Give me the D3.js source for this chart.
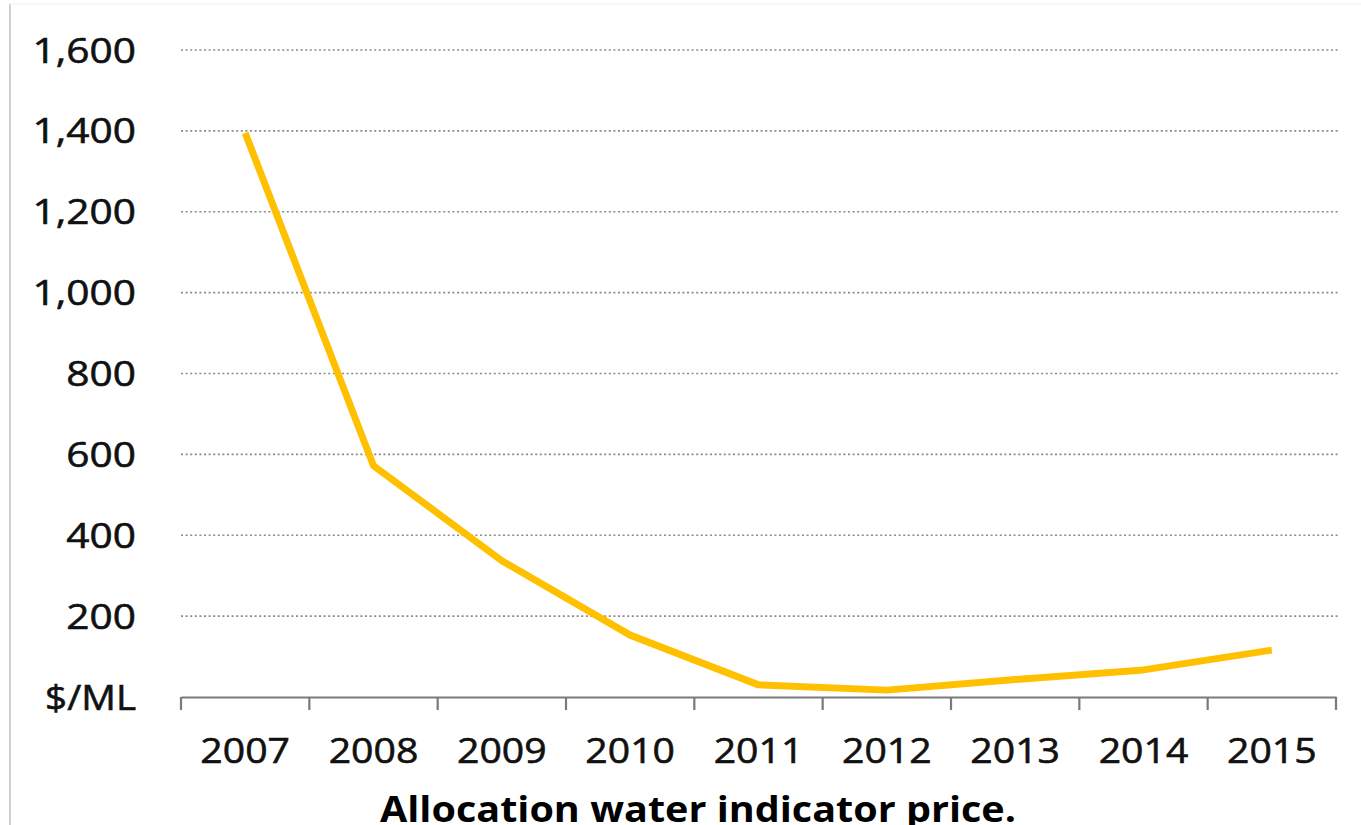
<!DOCTYPE html>
<html><head><meta charset="utf-8">
<script src="https://cdn.jsdelivr.net/npm/d3@7"></script>
<style>
html,body{margin:0;padding:0;background:#fff;overflow:hidden}
text{font-family:"Open Sans",sans-serif}
</style></head>
<body>
<svg id="c" width="1361" height="825"></svg>
<script>
const years = ["2007","2008","2009","2010","2011","2012","2013","2014","2015"];
const prices = [1395, 572, 337, 153, 30, 17, 43, 67, 116];
const yTicks = [200, 400, 600, 800, 1000, 1200, 1400, 1600];
const yTickLabels = ["200","400","600","800","1,000","1,200","1,400","1,600"];
const zeroLabel = "$/ML";
const title = "Allocation water indicator price.";

(function(){
const svg = d3.select("#c");
const W = 1361, H = 825;
const mLeft = 181, mRight = 1336, mTop = 50, mBottom = 697;

const x = d3.scaleBand().domain(years).range([mLeft, mRight]).paddingInner(0).paddingOuter(0);
const y = d3.scaleLinear().domain([0, 1600]).range([mBottom, mTop]);

function stretch(sel, k){
  sel.each(function(){
    const w = this.getComputedTextLength();
    d3.select(this).attr("textLength", w*k).attr("lengthAdjust","spacingAndGlyphs");
  });
}

// left border
svg.append("line").attr("x1",10).attr("x2",10).attr("y1",4).attr("y2",H)
  .attr("stroke","#d0d0d0").attr("stroke-width",2);
svg.append("line").attr("x1",10).attr("x2",W).attr("y1",4).attr("y2",4)
  .attr("stroke","#f2f2f2").attr("stroke-width",1);

// gridlines
svg.append("g").selectAll("line").data(yTicks).join("line")
  .attr("x1", mLeft).attr("x2", mRight+4)
  .attr("y1", d=>y(d)).attr("y2", d=>y(d))
  .attr("stroke","#8a8a8a").attr("stroke-width",1.6)
  .attr("stroke-dasharray","2,2.6");

// y labels
const yl = svg.append("g").attr("font-size",35).attr("fill","#111")
  .attr("stroke","#111").attr("stroke-width",0.6);
const ylt = yl.selectAll("text").data(yTicks).join("text")
  .attr("x", 136).attr("y", d=>y(d)).attr("dy","0.36em")
  .attr("text-anchor","end")
  .text((d,i)=>yTickLabels[i]);
stretch(ylt, 1.16);
const zl = yl.append("text").attr("x",136).attr("y",y(0)).attr("dy","0.36em")
  .attr("text-anchor","end").text(zeroLabel);
stretch(zl, 1.1);

// x axis
const xAxis = d3.axisBottom(x).tickSize(0).tickSizeOuter(0);
const gx = svg.append("g").attr("transform",`translate(0,${mBottom})`).call(xAxis);
gx.select(".domain").attr("stroke","#7a7a7a").attr("stroke-width",2.2);
const xt = gx.selectAll(".tick text").attr("font-size",35)
  .attr("fill","#111").attr("stroke","#111").attr("stroke-width",0.6)
  .attr("font-family","'Open Sans',sans-serif").attr("dy","0").attr("y",66);
stretch(xt, 1.12);
// boundary ticks
const bounds = years.map(d=>x(d)).concat([x(years[years.length-1])+x.bandwidth()]);
svg.append("g").selectAll("line").data(bounds).join("line")
  .attr("x1",d=>d).attr("x2",d=>d).attr("y1",mBottom).attr("y2",mBottom+13)
  .attr("stroke","#7a7a7a").attr("stroke-width",2.2);

// line
const line = d3.line().x((d,i)=>x(years[i])+x.bandwidth()/2).y(d=>y(d));
svg.append("path").datum(prices).attr("d",line)
  .attr("fill","none").attr("stroke","#FFC000").attr("stroke-width",7)
  .attr("stroke-linejoin","round");

// title
svg.append("text").attr("x",380).attr("y",822).attr("text-anchor","start")
  .attr("font-size",35).attr("font-weight","bold").attr("fill","#000")
  .attr("textLength",636).attr("lengthAdjust","spacingAndGlyphs")
  .text(title);
})();
</script>
</body></html>
